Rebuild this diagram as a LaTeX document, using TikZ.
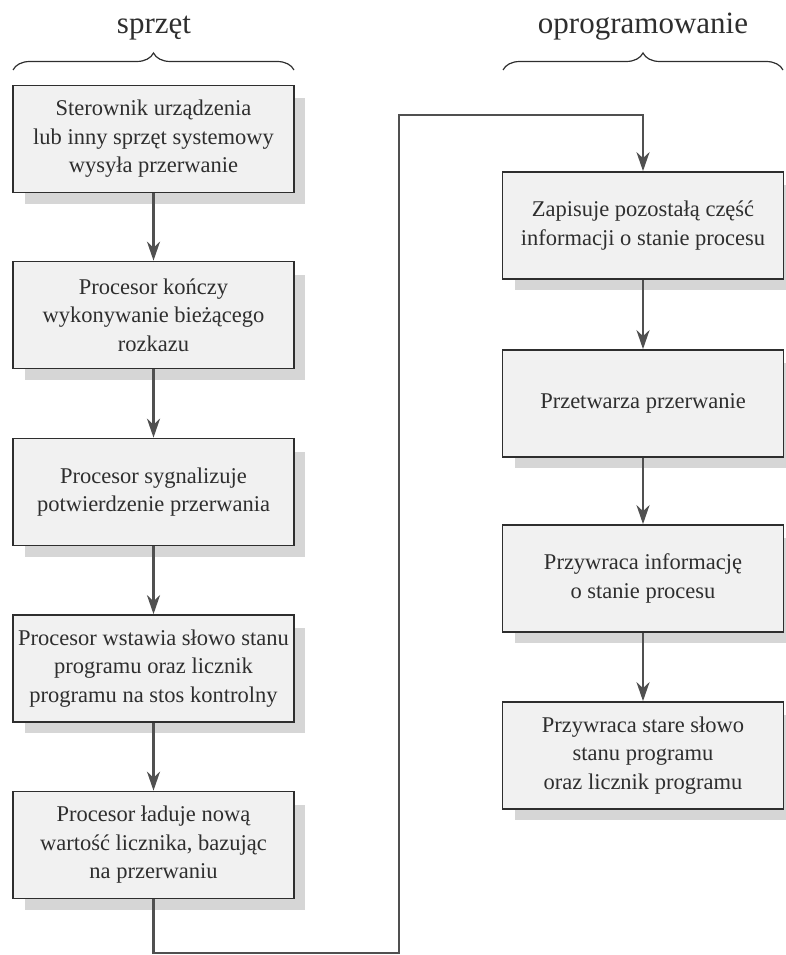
\documentclass[tikz,border=0pt]{standalone}
\usepackage{fontspec}
\setmainfont{Liberation Serif}
\usetikzlibrary{arrows.meta,decorations.pathreplacing}
\definecolor{ink}{HTML}{2E2E2E}
\definecolor{lineg}{HTML}{505050}
\definecolor{boxfill}{HTML}{F1F1F1}
\definecolor{shadowg}{HTML}{D6D6D6}
\begin{document}
\begin{tikzpicture}[x=1pt,y=1pt,
  stepbox/.style={draw=ink, line width=1.7pt, fill=boxfill, text=ink,
    minimum width=281pt, minimum height=107pt, inner xsep=1pt, align=center,
    font=\fontsize{22.5}{28.5}\selectfont},
  boxshadow/.style={fill=shadowg, draw=none},
  arr/.style={draw=lineg, line width=2.4pt, -{Stealth[length=19pt,width=13pt,inset=6pt]}},
  title/.style={text=ink, anchor=base, font=\fontsize{31}{36}\selectfont},
  bracestyle/.style={draw=ink, line width=1.2pt, decorate, decoration={brace, amplitude=17pt}}
]
\useasboundingbox (0,0) rectangle (785,-955);
% shadows
\foreach \cx/\cy in {153.5/139, 153.5/315, 153.5/492, 153.5/668.5, 153.5/845,
                     643/225.5, 643/403.5, 643/578.5, 643/755.5}{
  \fill[boxshadow] (\cx-140.5+12,-\cy+53.5-13) rectangle (\cx+140.5+11,-\cy-53.5-11);
}
% titles
\node[title] (t1) at (154,-34) {sprzęt};
\node[title] (t2) at (643,-34) {oprogramowanie};
% braces
\coordinate (bl1) at (13,-70);
\coordinate (bl2) at (294,-70);
\coordinate (br1) at (503,-70);
\coordinate (br2) at (783,-70);
\draw[bracestyle] (bl1) -- (bl2);
\draw[bracestyle] (br1) -- (br2);
% boxes
\node[stepbox] (b1) at (153.5,-139) {Sterownik urządzenia\\lub inny sprzęt systemowy\\wysyła przerwanie};
\node[stepbox] (b2) at (153.5,-315) {Procesor kończy\\wykonywanie bieżącego\\rozkazu};
\node[stepbox] (b3) at (153.5,-492) {Procesor sygnalizuje\\potwierdzenie przerwania};
\node[stepbox] (b4) at (153.5,-668.5) {Procesor wstawia słowo stanu\\programu oraz licznik\\programu na stos kontrolny};
\node[stepbox] (b5) at (153.5,-845) {Procesor ładuje nową\\wartość licznika, bazując\\na przerwaniu};
\node[stepbox] (b6) at (643,-225.5) {Zapisuje pozostałą część\\informacji o stanie procesu};
\node[stepbox] (b7) at (643,-403.5) {Przetwarza przerwanie};
\node[stepbox] (b8) at (643,-578.5) {Przywraca informację\\o stanie procesu};
\node[stepbox] (b9) at (643,-755.5) {Przywraca stare słowo\\stanu programu\\oraz licznik programu};
% connectors
\draw[arr] (b1) -- (b2);
\draw[arr] (b2) -- (b3);
\draw[arr] (b3) -- (b4);
\draw[arr] (b4) -- (b5);
\coordinate (c1) at (153.5,-953);
\coordinate (c3) at (399,-115);
\draw[arr] (b5.south) -- (c1) -| (c3) -| (b6.north);
\draw[arr] (b6) -- (b7);
\draw[arr] (b7) -- (b8);
\draw[arr] (b8) -- (b9);
\end{tikzpicture}
\end{document}
